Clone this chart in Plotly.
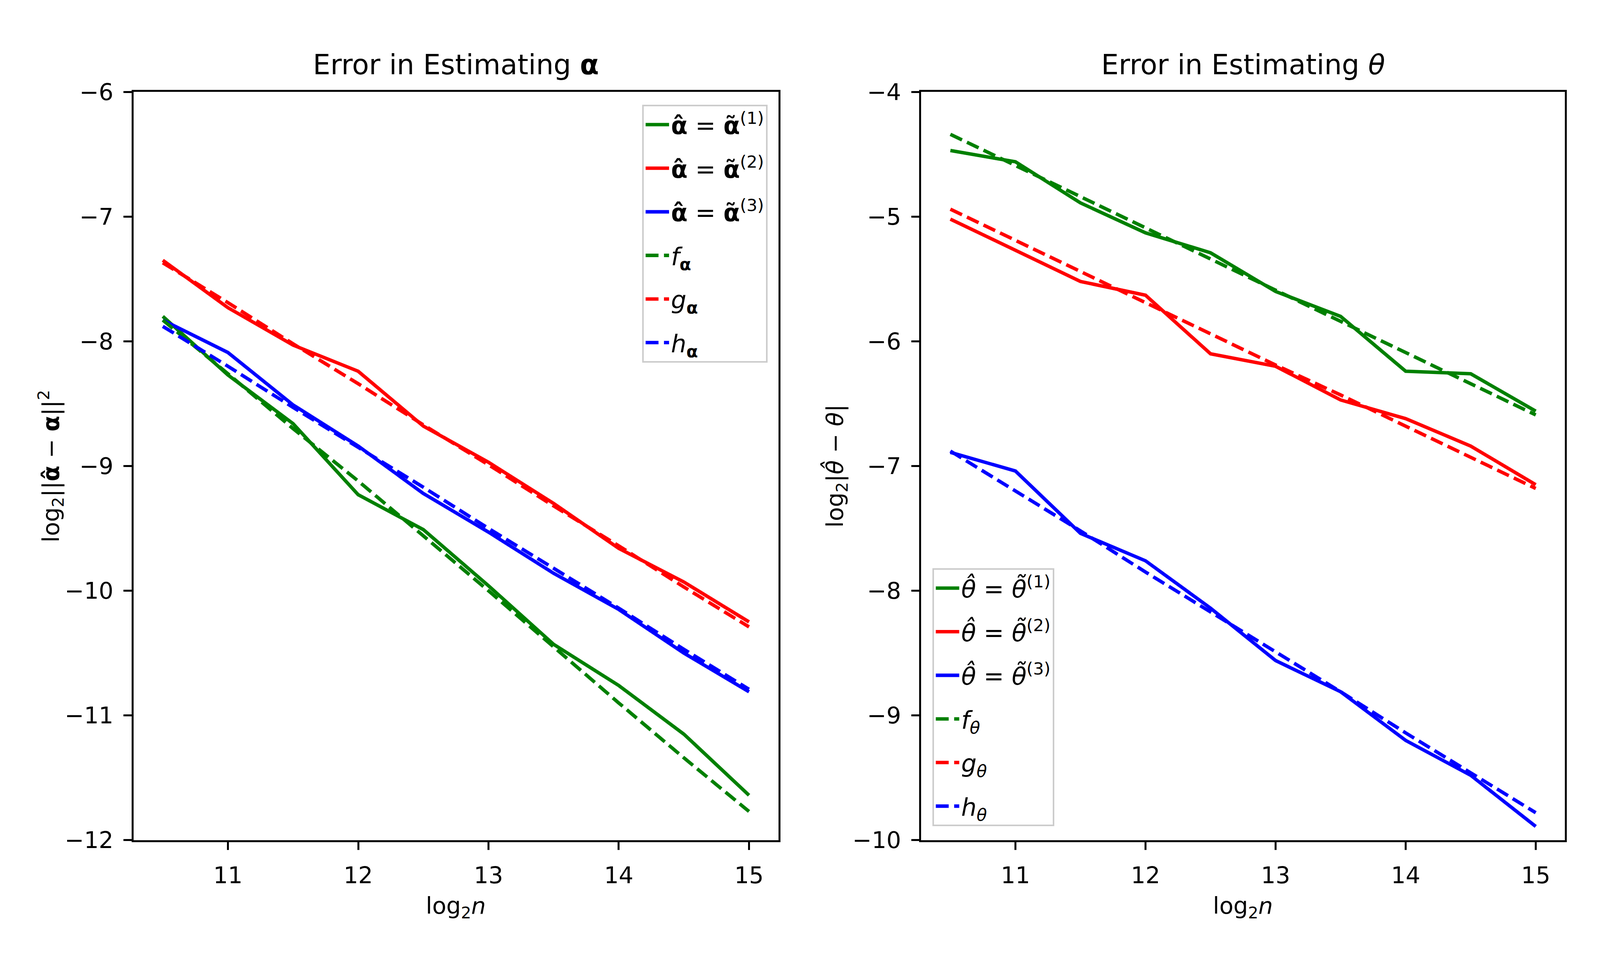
"""
    Error-vs-sample-size plots for the alpha and theta estimators (log2 scale).

    Usage:
        python plot.py
"""
import plotly.graph_objects as go

LOG2_N = [10.5, 11, 11.5, 12, 12.5, 13, 13.5, 14, 14.5, 15]

# log2 ||alpha_hat - alpha||^2
ALPHA_EST1 = [-7.80, -8.27, -8.66, -9.23, -9.51, -9.96, -10.43, -10.76, -11.15, -11.64]
ALPHA_EST2 = [-7.35, -7.73, -8.03, -8.24, -8.68, -8.97, -9.30, -9.66, -9.93, -10.25]
ALPHA_EST3 = [-7.83, -8.09, -8.51, -8.84, -9.22, -9.53, -9.86, -10.15, -10.50, -10.81]
ALPHA_F = [-7.83, -8.26, -8.70, -9.12, -9.56, -10.00, -10.45, -10.90, -11.34, -11.77]
ALPHA_G = [-7.37, -7.69, -8.02, -8.34, -8.67, -8.99, -9.32, -9.64, -9.97, -10.29]
ALPHA_H = [-7.88, -8.20, -8.53, -8.85, -9.17, -9.50, -9.82, -10.14, -10.47, -10.79]

# log2 |theta_hat - theta|
THETA_EST1 = [-4.47, -4.56, -4.89, -5.13, -5.29, -5.60, -5.80, -6.24, -6.26, -6.56]
THETA_EST2 = [-5.02, -5.27, -5.52, -5.63, -6.10, -6.20, -6.47, -6.62, -6.84, -7.15]
THETA_EST3 = [-6.89, -7.04, -7.54, -7.76, -8.14, -8.56, -8.81, -9.20, -9.48, -9.89]
THETA_F = [-4.34, -4.59, -4.84, -5.09, -5.34, -5.59, -5.84, -6.09, -6.34, -6.59]
THETA_G = [-4.94, -5.19, -5.44, -5.69, -5.94, -6.19, -6.43, -6.68, -6.93, -7.18]
THETA_H = [-6.88, -7.20, -7.52, -7.85, -8.17, -8.49, -8.81, -9.14, -9.46, -9.78]

X_TICKS = [11, 12, 13, 14, 15]
ALPHA_Y_TICKS = [-12, -11, -10, -9, -8, -7, -6]
THETA_Y_TICKS = [-10, -9, -8, -7, -6, -5, -4]

ALPHA_NAMES = [
    "<b>α̂</b> = <b>α̃</b><sup>(1)</sup>",
    "<b>α̂</b> = <b>α̃</b><sup>(2)</sup>",
    "<b>α̂</b> = <b>α̃</b><sup>(3)</sup>",
    "<i>f</i><sub><b>α</b></sub>",
    "<i>g</i><sub><b>α</b></sub>",
    "<i>h</i><sub><b>α</b></sub>",
]
THETA_NAMES = [
    "<i>θ̂</i> = <i>θ̃</i><sup>(1)</sup>",
    "<i>θ̂</i> = <i>θ̃</i><sup>(2)</sup>",
    "<i>θ̂</i> = <i>θ̃</i><sup>(3)</sup>",
    "<i>f</i><sub><i>θ</i></sub>",
    "<i>g</i><sub><i>θ</i></sub>",
    "<i>h</i><sub><i>θ</i></sub>",
]

COLORS = ["green", "red", "blue"]
FONT = "DejaVu Sans, Liberation Sans, sans-serif"
# the page fills the browser window, so sizes are scaled a bit below 500 dpi
PX = 0.85 * 500 / 72
DASH = f"{3.7 * 1.5 * PX:.0f}px,{1.6 * 1.5 * PX:.0f}px"

# axes boxes as fractions of the figure
LEFT_DOMAIN = [0.0818, 0.4864]
RIGHT_DOMAIN = [0.576, 0.98]
Y_DOMAIN = [0.1272, 0.92]


def add_panel(fig, series, names, xaxis, yaxis, legend, tag):
    for i, (ys, name) in enumerate(zip(series, names)):
        fig.add_trace(go.Scatter(
            x=LOG2_N, y=ys,
            mode="lines",
            name=name,
            line=dict(color=COLORS[i % 3], width=1.5 * PX,
                      dash="solid" if i < 3 else DASH),
            xaxis=xaxis, yaxis=yaxis,
            legend=legend,
            legendgroup=f"{tag}{i}",
        ))


def label(text, x, y, size, angle=0):
    return dict(text=text, x=x, y=y, xref="paper", yref="paper",
                xanchor="center", yanchor="middle", showarrow=False,
                textangle=angle, font=dict(size=size, color="black"))


def main():
    fig = go.Figure()
    add_panel(fig, [ALPHA_EST1, ALPHA_EST2, ALPHA_EST3, ALPHA_F, ALPHA_G, ALPHA_H],
              ALPHA_NAMES, "x", "y", "legend", "a")
    add_panel(fig, [THETA_EST1, THETA_EST2, THETA_EST3, THETA_F, THETA_G, THETA_H],
              THETA_NAMES, "x2", "y2", "legend2", "t")

    axis_common = dict(
        showline=True, mirror=True, linecolor="black", linewidth=0.8 * PX,
        ticks="outside", ticklen=3.5 * PX, tickwidth=0.8 * PX, tickcolor="black",
        showgrid=False, zeroline=False,
        tickfont=dict(size=10 * PX, color="black"),
        ticklabelstandoff=int(2.5 * PX),
    )
    xrange = [10.275, 15.225]

    legend_common = dict(
        bgcolor="rgba(255,255,255,0.8)",
        bordercolor="#cccccc",
        borderwidth=4,
        font=dict(size=10.5 * PX, color="black"),
        itemwidth=60,
        tracegroupgap=int(4.8 * PX),
    )

    fs = 10 * PX
    mid_left = sum(LEFT_DOMAIN) / 2
    mid_right = sum(RIGHT_DOMAIN) / 2
    mid_y = sum(Y_DOMAIN) / 2

    fig.update_layout(
        autosize=True,
        margin=dict(l=0, r=0, t=0, b=0),
        plot_bgcolor="white", paper_bgcolor="white",
        font=dict(family=FONT, color="black", size=fs),
        xaxis=dict(domain=LEFT_DOMAIN, range=xrange, tickvals=X_TICKS,
                   anchor="y", **axis_common),
        yaxis=dict(domain=Y_DOMAIN, range=[-12, -6], tickvals=ALPHA_Y_TICKS,
                   tickformat="d", anchor="x", **axis_common),
        xaxis2=dict(domain=RIGHT_DOMAIN, range=xrange, tickvals=X_TICKS,
                    anchor="y2", **axis_common),
        yaxis2=dict(domain=Y_DOMAIN, range=[-10, -4], tickvals=THETA_Y_TICKS,
                    tickformat="d", anchor="x2", **axis_common),
        legend=dict(x=0.4796, y=0.9064, xanchor="right", yanchor="top", **legend_common),
        legend2=dict(x=0.583, y=0.142, xanchor="left", yanchor="bottom", **legend_common),
        annotations=[
            label("Error in Estimating <b>α</b>", mid_left, 0.949, 12 * PX),
            label("Error in Estimating <i>θ</i>", mid_right, 0.949, 12 * PX),
            label("log<sub>2</sub><i>n</i>", mid_left, 0.056, fs),
            label("log<sub>2</sub><i>n</i>", mid_right, 0.056, fs),
            label("log<sub>2</sub>||<b>α̂</b> − <b>α</b>||<sup>2</sup>", 0.03, mid_y, fs, -90),
            label("log<sub>2</sub>|<i>θ̂</i> − <i>θ</i>|", 0.5224, mid_y, fs, -90),
        ],
    )
    fig.write_html("out.html")


if __name__ == "__main__":
    main()
